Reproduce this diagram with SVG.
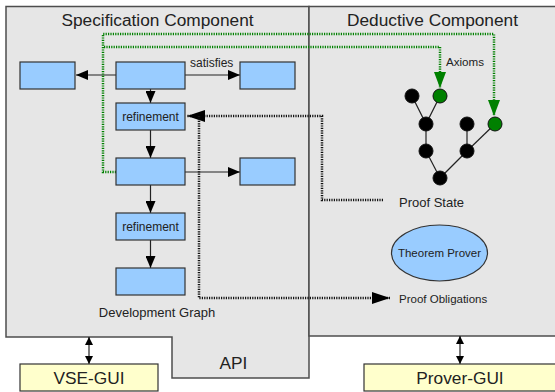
<svg xmlns="http://www.w3.org/2000/svg" width="555" height="392" viewBox="0 0 555 392">
<style>
.panel{fill:#e6e6e6;stroke:#4d4d4d;stroke-width:1.5}
.box{fill:#99ccff;stroke:#333;stroke-width:1.2}
.gui{fill:#ffffcc;stroke:#333;stroke-width:1.2}
text{font-family:"Liberation Sans",Arial,sans-serif;fill:#222}
.h{font-size:17.3px;text-anchor:middle}
.lbl{font-size:12px;text-anchor:middle}
.edge{stroke:#222;stroke-width:1.2;fill:none}
.green{stroke:#008000;stroke-width:2.5;stroke-dasharray:1.2 1.2;fill:none}
.dot{stroke:#111;stroke-width:2.5;stroke-dasharray:1.2 1.2;fill:none}
.bn{fill:#000;stroke:#111;stroke-width:1}
.gn{fill:#008000;stroke:#111;stroke-width:1}
</style>
<defs>
<marker id="ah" markerUnits="userSpaceOnUse" markerWidth="12" markerHeight="10" refX="12" refY="5" orient="auto"><path d="M0,0 L12,5 L0,10 Z" fill="#000"/></marker>
<marker id="ahs" markerUnits="userSpaceOnUse" markerWidth="8" markerHeight="8" refX="8" refY="4" orient="auto"><path d="M0,0 L8,4 L0,8 Z" fill="#000"/></marker>
<marker id="ahss" markerUnits="userSpaceOnUse" markerWidth="8" markerHeight="8" refX="0" refY="4" orient="auto"><path d="M8,0 L0,4 L8,8 Z" fill="#000"/></marker>
<marker id="ahb" markerUnits="userSpaceOnUse" markerWidth="18" markerHeight="12" refX="18" refY="6" orient="auto"><path d="M0,0 L18,6 L0,12 Z" fill="#000"/></marker>
<marker id="ahg" markerUnits="userSpaceOnUse" markerWidth="16" markerHeight="12" refX="16" refY="6" orient="auto"><path d="M0,0 L16,6 L0,12 Z" fill="#008000"/></marker>
</defs>

<g id="spec-panel">
<path class="panel" d="M6,6.5 H309 V378 H172 V337 H6 Z"/>
<text class="h" x="157.5" y="26">Specification Component</text>
<text x="157" y="317" style="font-size:13px;text-anchor:middle">Development Graph</text>
<text class="h" x="233.5" y="369">API</text>
</g>
<g id="deduct-panel">
<path class="panel" d="M309,6.5 H557 V336 H309 Z"/>
<text class="h" x="432.5" y="26">Deductive Component</text>
</g>

<g id="connectors">
<line class="edge" x1="116" y1="75" x2="76" y2="75" marker-end="url(#ah)"/>
<line class="edge" x1="185" y1="75" x2="240" y2="75" marker-end="url(#ah)"/>
<line class="edge" x1="150.5" y1="89" x2="150.5" y2="103" marker-end="url(#ah)"/>
<line class="edge" x1="150.5" y1="130" x2="150.5" y2="158" marker-end="url(#ah)"/>
<line class="edge" x1="185" y1="172" x2="240" y2="172" marker-end="url(#ah)"/>
<line class="edge" x1="150.5" y1="185" x2="150.5" y2="213" marker-end="url(#ah)"/>
<line class="edge" x1="150.5" y1="240" x2="150.5" y2="268" marker-end="url(#ah)"/>
<path class="green" d="M116,172 H103 V34 H494 V116" marker-end="url(#ahg)"/>
<path class="green" d="M104,47 H440 V88" marker-end="url(#ahg)"/>
<path class="dot" d="M383,200 H322 V116 H187" marker-end="url(#ahb)"/>
<path class="dot" d="M199,116 V298 H390" marker-end="url(#ahb)"/>
<line class="edge" x1="412" y1="96" x2="426" y2="124"/>
<line class="edge" x1="440" y1="96" x2="426" y2="124"/>
<line class="edge" x1="426" y1="124" x2="426" y2="151"/>
<line class="edge" x1="467" y1="124" x2="467" y2="151"/>
<line class="edge" x1="495" y1="124" x2="467" y2="151"/>
<line class="edge" x1="426" y1="151" x2="440" y2="178"/>
<line class="edge" x1="467" y1="151" x2="440" y2="178"/>
<line class="edge" x1="89" y1="337" x2="89" y2="364" marker-start="url(#ahss)" marker-end="url(#ahs)"/>
<line class="edge" x1="460" y1="336" x2="460" y2="364" marker-start="url(#ahss)" marker-end="url(#ahs)"/>
<text x="190" y="67" style="font-size:12px">satisfies</text>
<text x="446" y="66" style="font-size:11.6px">Axioms</text>
</g>

<g id="n-left"><rect class="box" x="20" y="62" width="55" height="27"/></g>
<g id="n-top"><rect class="box" x="116" y="62" width="69" height="27"/></g>
<g id="n-right1"><rect class="box" x="240" y="62" width="55" height="27"/></g>
<g id="n-ref1"><rect class="box" x="116" y="103" width="69" height="27"/><text class="lbl" x="150.5" y="120.5">refinement</text></g>
<g id="n-mid"><rect class="box" x="116" y="158" width="69" height="27"/></g>
<g id="n-right2"><rect class="box" x="240" y="158" width="55" height="27"/></g>
<g id="n-ref2"><rect class="box" x="116" y="213" width="69" height="27"/><text class="lbl" x="150.5" y="230.5">refinement</text></g>
<g id="n-bottom"><rect class="box" x="116" y="268" width="69" height="27"/></g>

<g id="tree">
<circle class="bn" cx="412" cy="96" r="7"/>
<circle class="gn" cx="440" cy="96" r="7"/>
<circle class="bn" cx="426" cy="124" r="7"/>
<circle class="bn" cx="467" cy="124" r="7"/>
<circle class="gn" cx="495" cy="124" r="7"/>
<circle class="bn" cx="426" cy="151" r="7"/>
<circle class="bn" cx="467" cy="151" r="7"/>
<circle class="bn" cx="440" cy="178" r="7"/>
</g>
<g id="proof-state"><text x="399" y="207" style="font-size:13px">Proof State</text></g>
<g id="theorem-prover"><ellipse class="box" cx="439.5" cy="253" rx="48" ry="28"/><text x="439.5" y="257" style="font-size:11.5px;text-anchor:middle">Theorem Prover</text></g>
<g id="proof-obligations"><text x="399" y="303" style="font-size:11.5px">Proof Obligations</text></g>

<g id="vse-gui"><rect class="gui" x="20" y="364" width="138" height="27"/><text class="h" x="89" y="384">VSE-GUI</text></g>
<g id="prover-gui"><rect class="gui" x="364" y="364" width="200" height="27"/><text class="h" x="460" y="384">Prover-GUI</text></g>
</svg>
